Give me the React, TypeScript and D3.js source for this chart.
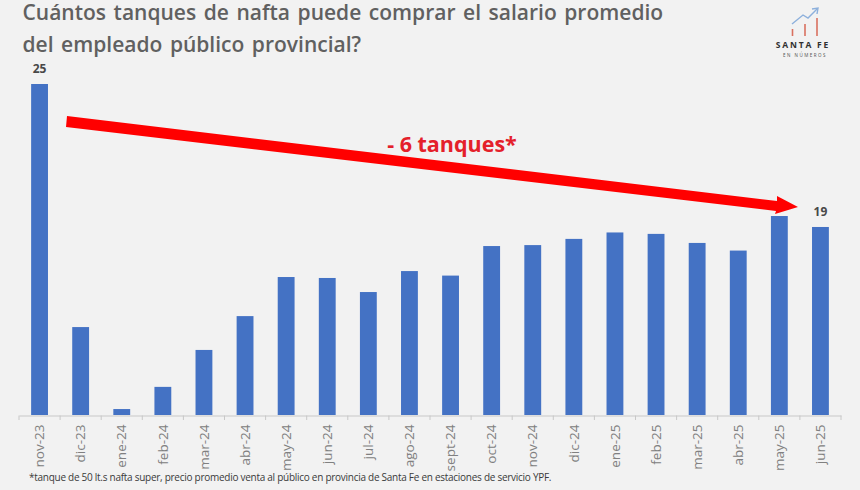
import React, { useEffect, useRef } from 'react';
import * as d3 from 'd3';

const months = ['nov-23', 'dic-23', 'ene-24', 'feb-24', 'mar-24', 'abr-24', 'may-24', 'jun-24', 'jul-24', 'ago-24', 'sept-24', 'oct-24', 'nov-24', 'dic-24', 'ene-25', 'feb-25', 'mar-25', 'abr-25', 'may-25', 'jun-25'];
const tanques = [25, 14.8, 11.36, 12.29, 13.84, 15.26, 16.9, 16.86, 16.27, 17.15, 16.96, 18.2, 18.24, 18.5, 18.77, 18.71, 18.33, 18.01, 19.46, 19];
const labeled = ['nov-23', 'jun-25'];
const titleLines = ['Cuántos tanques de nafta puede comprar el salario promedio', 'del empleado público provincial?'];
const footnote = '*tanque de 50 lt.s nafta super, precio promedio venta al público en provincia de Santa Fe en estaciones de servicio YPF.';

const width = 860;
const height = 490;
const font = '"Open Sans", sans-serif';

export default function App() {
  const svgRef = useRef<SVGSVGElement>(null);

  useEffect(() => {
    if (!svgRef.current) return;
    const svg = d3.select(svgRef.current);
    svg.selectAll('*').remove();

    svg.append('rect').attr('width', width).attr('height', height).attr('fill', '#f2f2f2');

    const x = d3.scaleBand<string>().domain(months).range([19, 841]);
    // the value axis of the original does not start at zero
    const y = d3.scaleLinear().domain([11.11, 25]).range([415, 84]);
    const barWidth = x.bandwidth() * 0.41;

    // Title
    svg.append('g')
      .selectAll('text')
      .data(titleLines)
      .join('text')
      .attr('x', 22.5)
      .attr('y', (_, i) => 20 + i * 32)
      .attr('font-family', font)
      .attr('font-size', 21)
      .attr('font-weight', 600)
      .attr('word-spacing', 2.1)
      .attr('fill', '#606060')
      .text(d => d);

    // Bars
    svg.append('g')
      .selectAll('rect')
      .data(months)
      .join('rect')
      .attr('x', d => (x(d) as number) + (x.bandwidth() - barWidth) / 2)
      .attr('width', barWidth)
      .attr('y', (_, i) => y(tanques[i]))
      .attr('height', (_, i) => 415 - y(tanques[i]))
      .attr('fill', '#4472c4');

    // Value labels
    svg.append('g')
      .selectAll('text')
      .data(labeled)
      .join('text')
      .attr('x', d => (x(d) as number) + x.bandwidth() / 2)
      .attr('y', d => y(tanques[months.indexOf(d)]) - 11)
      .attr('text-anchor', 'middle')
      .attr('font-family', font)
      .attr('font-size', 12)
      .attr('font-weight', 700)
      .attr('fill', '#484848')
      .text(d => Math.round(tanques[months.indexOf(d)]));

    // X axis
    const axis = d3.axisBottom(x).tickSizeOuter(0).tickSize(0).tickPadding(0);
    svg.append('g')
      .attr('transform', 'translate(0, 415.5)')
      .call(axis)
      .call(g => g.select('.domain').attr('stroke', '#c8c8c8'))
      .call(g => g.selectAll('.tick text')
        .attr('transform', 'rotate(-90)')
        .attr('x', -9)
        .attr('y', 0)
        .attr('dy', '0.35em')
        .attr('text-anchor', 'end')
        .attr('font-family', font)
        .attr('font-size', 13.5)
        .attr('fill', '#808080'));

    // Tick marks sit between the categories
    svg.append('g')
      .selectAll('line')
      .data([...months.map(d => x(d) as number), 841])
      .join('line')
      .attr('x1', d => d)
      .attr('x2', d => d)
      .attr('y1', 415.5)
      .attr('y2', 420)
      .attr('stroke', '#c8c8c8');

    // Trend arrow
    const arrow: [number, number][] = [[67, 116], [777, 201], [777, 196], [798, 207], [775, 214], [776, 211], [66, 127]];
    svg.append('path')
      .attr('d', d3.line()(arrow) + 'Z')
      .attr('fill', '#ff0000');

    svg.append('text')
      .attr('x', 452)
      .attr('y', 151.5)
      .attr('text-anchor', 'middle')
      .attr('font-family', font)
      .attr('font-size', 21.5)
      .attr('font-weight', 700)
      .attr('fill', '#e4202a')
      .text('- 6 tanques*');

    // Footnote
    svg.append('text')
      .attr('x', 29)
      .attr('y', 481)
      .attr('font-family', font)
      .attr('font-size', 10)
      .attr('letter-spacing', -0.27)
      .attr('fill', '#3a3a3a')
      .text(footnote);

    // Logo
    const logo = svg.append('g');
    logo.selectAll('line')
      .data([[792.5, 29], [805, 24], [817, 18]])
      .join('line')
      .attr('x1', d => d[0])
      .attr('x2', d => d[0])
      .attr('y1', d => d[1])
      .attr('y2', 36)
      .attr('stroke', '#d9705f')
      .attr('stroke-width', 1.6);
    logo.append('path')
      .attr('d', d3.line()([[792, 24], [803, 15], [808, 18], [817, 9]]))
      .attr('fill', 'none')
      .attr('stroke', '#8db0dc')
      .attr('stroke-width', 1.4);
    logo.append('path')
      .attr('d', d3.line()([[812, 9], [818, 8], [817, 14]]))
      .attr('fill', 'none')
      .attr('stroke', '#8db0dc')
      .attr('stroke-width', 1.4);
    logo.append('text')
      .attr('x', 803)
      .attr('y', 48)
      .attr('text-anchor', 'middle')
      .attr('font-family', font)
      .attr('font-size', 8.5)
      .attr('font-weight', 700)
      .attr('letter-spacing', 1.8)
      .attr('fill', '#303030')
      .text('SANTA FE');
    logo.append('text')
      .attr('x', 805)
      .attr('y', 56.5)
      .attr('text-anchor', 'middle')
      .attr('font-family', font)
      .attr('font-size', 4.5)
      .attr('letter-spacing', 1.5)
      .attr('fill', '#505050')
      .text('EN NÚMEROS');
  }, []);

  return (
    <svg
      ref={svgRef}
      width={width}
      height={height}
      style={{ position: 'absolute', left: 0, top: 0 }}
    />
  );
}
